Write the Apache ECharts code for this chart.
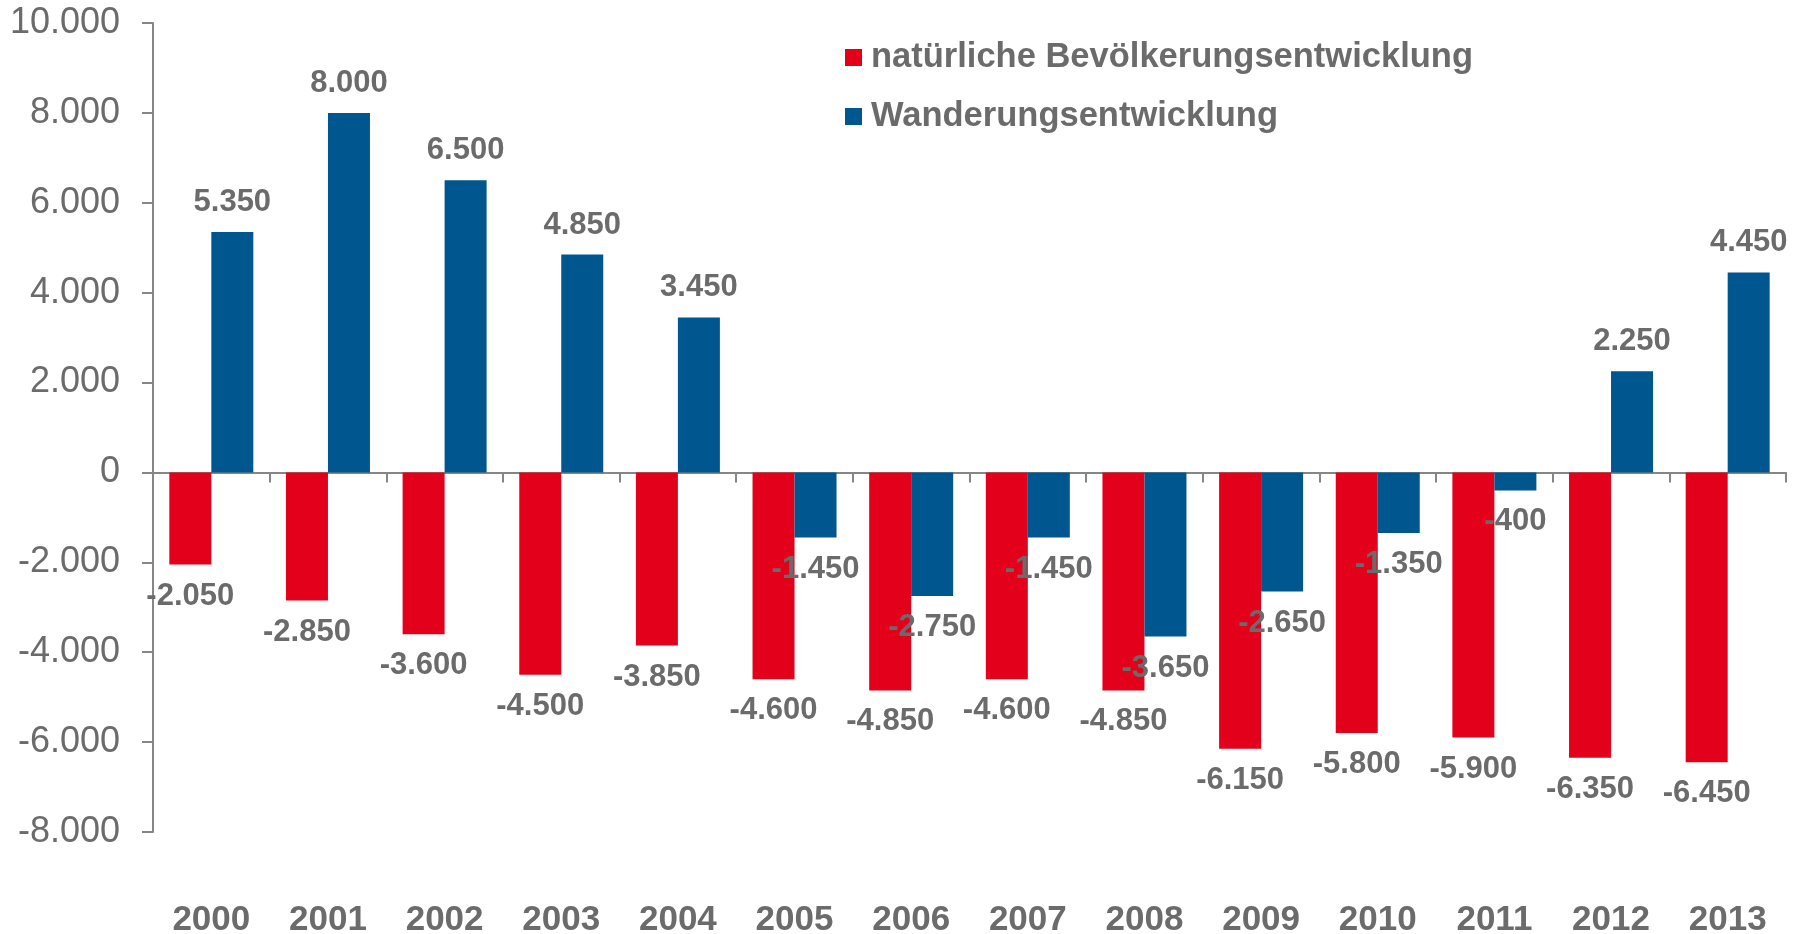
<!DOCTYPE html>
<html>
<head>
<meta charset="utf-8">
<title>Bevölkerungsentwicklung</title>
<script src="https://cdn.jsdelivr.net/npm/echarts@6/dist/echarts.min.js"></script>
<style>
  html, body { margin: 0; padding: 0; background: #fff; }
  #chart { width: 1795px; height: 934px; }
</style>
</head>
<body>
<div id="chart"></div>
<script>
// Jahre
const years = ['2000', '2001', '2002', '2003', '2004', '2005', '2006', '2007', '2008', '2009', '2010', '2011', '2012', '2013']

// natürliche Bevölkerungsentwicklung
const natural = [-2050, -2850, -3600, -4500, -3850, -4600, -4850, -4600, -4850, -6150, -5800, -5900, -6350, -6450]

// Wanderungsentwicklung
const migration = [5350, 8000, 6500, 4850, 3450, -1450, -2750, -1450, -3650, -2650, -1350, -400, 2250, 4450]

const textColor = '#6b6b6b'
const axisColor = '#868686'
const font = '"Liberation Sans", Arial, sans-serif'

// Zahlen mit Punkt als Tausendertrennzeichen
const fmt = (v) => {
  const s = String(Math.abs(v)).replace(/\B(?=(\d{3})+(?!\d))/g, '.')
  return (v < 0 ? '-' : '') + s
}

// Beschriftung oberhalb bzw. unterhalb des Balkens
const toItems = (arr) => arr.map(v => ({
  value: v,
  label: v < 0 ? { position: 'bottom', distance: 16 } : { position: 'top', distance: 14 }
}))

const chart = echarts.init(document.getElementById('chart'))

const labelStyle = {
  show: true,
  color: textColor,
  fontFamily: font,
  fontSize: 31,
  fontWeight: 'bold',
  formatter: (p) => fmt(p.value)
}

const option = {
  animation: false,
  textStyle: { fontFamily: font },
  legend: {
    orient: 'vertical',
    left: 845,
    top: 40,
    padding: 0,
    itemWidth: 17,
    itemHeight: 17,
    itemGap: 24,
    icon: 'rect',
    textStyle: {
      color: textColor,
      fontSize: 34.5,
      fontWeight: 'bold',
      fontFamily: font,
      lineHeight: 34,
      padding: [0, 0, 0, 4]
    },
    data: ['natürliche Bevölkerungsentwicklung', 'Wanderungsentwicklung']
  },
  grid: {
    left: 153,
    right: 9,
    top: 23,
    bottom: 102,
    containLabel: false,
    outerBoundsMode: 'none'
  },
  xAxis: {
    type: 'category',
    data: years,
    axisLine: {
      onZero: true,
      lineStyle: { color: axisColor, width: 2 }
    },
    axisTick: {
      show: true,
      length: 10,
      lineStyle: { color: axisColor, width: 2 }
    },
    axisLabel: {
      margin: 71,
      color: textColor,
      fontSize: 35,
      fontWeight: 'bold',
      fontFamily: font
    }
  },
  yAxis: {
    type: 'value',
    min: -8000,
    max: 10000,
    interval: 2000,
    splitLine: { show: false },
    axisLine: {
      show: true,
      lineStyle: { color: axisColor, width: 2 }
    },
    axisTick: {
      show: true,
      length: 11,
      lineStyle: { color: axisColor, width: 2 }
    },
    axisLabel: {
      margin: 33,
      color: textColor,
      fontSize: 36,
      fontFamily: font,
      formatter: (v) => fmt(v)
    }
  },
  series: [
    {
      name: 'natürliche Bevölkerungsentwicklung',
      type: 'bar',
      barWidth: 42,
      barGap: '0%',
      itemStyle: { color: '#e2001a' },
      label: labelStyle,
      data: toItems(natural)
    },
    {
      name: 'Wanderungsentwicklung',
      type: 'bar',
      barWidth: 42,
      barGap: '0%',
      itemStyle: { color: '#00568f' },
      label: labelStyle,
      data: toItems(migration)
    }
  ]
}

chart.setOption(option)
</script>
</body>
</html>
